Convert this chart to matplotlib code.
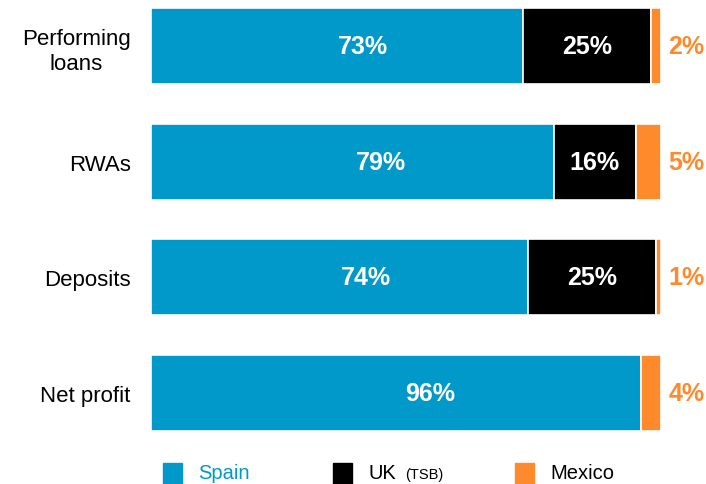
import matplotlib
matplotlib.use("Agg")
import matplotlib.pyplot as plt
from matplotlib.patches import Rectangle

plt.rcParams['font.family'] = ['Liberation Sans', 'DejaVu Sans']

categories = ["Performing\nloans", "RWAs", "Deposits", "Net profit"]
spain = [73, 79, 74, 96]
uk = [25, 16, 25, 0]
mexico = [2, 5, 1, 4]

BLUE = "#0099C9"
BLACK = "#000000"
ORANGE = "#FF8A2B"

W, H = 706, 485
fig = plt.figure(figsize=(W / 100, H / 100), dpi=100)
ax = fig.add_axes([151 / W, (H - 432) / H, 510 / W, 423 / H])

y = list(range(len(categories)))
bh = 0.66
left = [0] * len(categories)
for vals, col in [(spain, BLUE), (uk, BLACK), (mexico, ORANGE)]:
    ax.barh(y, vals, left=left, height=bh, color=col, edgecolor="white", linewidth=1.2)
    left = [l + v for l, v in zip(left, vals)]

for i in y:
    ax.text(spain[i] * 0.57, i, f"{spain[i]}%", color="white", fontsize=18,
            fontweight="bold", ha="center", va="center")
    if uk[i] > 0:
        ax.text(spain[i] + uk[i] / 2, i, f"{uk[i]}%", color="white", fontsize=18,
                fontweight="bold", ha="center", va="center")
    ax.text(100 + 5, i, f"{mexico[i]}%", color=ORANGE, fontsize=18,
            fontweight="bold", ha="center", va="center", clip_on=False)

ax.set_xlim(0, 100)
ax.set_ylim(3 + bh / 2, -bh / 2)
ax.set_yticks(y)
ax.set_yticklabels(categories, fontsize=16, multialignment="center", linespacing=1.25)
ax.tick_params(axis="y", length=0, pad=14.5)
ax.set_xticks([])
for s in ax.spines.values():
    s.set_visible(False)

# legend drawn along the bottom edge
sq_top = 464
for x0, col in [(163, BLUE), (333, BLACK), (515, ORANGE)]:
    fig.patches.append(Rectangle((x0 / W, 0), 19 / W, (H - sq_top) / H,
                                 transform=fig.transFigure, color=col))
base = (H - 479) / H
fig.text(198 / W, base, "Spain", color=BLUE, fontsize=14.5, va="baseline")
fig.text(368 / W, base, "UK", color="black", fontsize=14.5, va="baseline")
fig.text(405 / W, base, "(TSB)", color="black", fontsize=10.5, va="baseline")
fig.text(550 / W, base, "Mexico", color="black", fontsize=14.5, va="baseline")

fig.savefig("out.png", dpi=100)
